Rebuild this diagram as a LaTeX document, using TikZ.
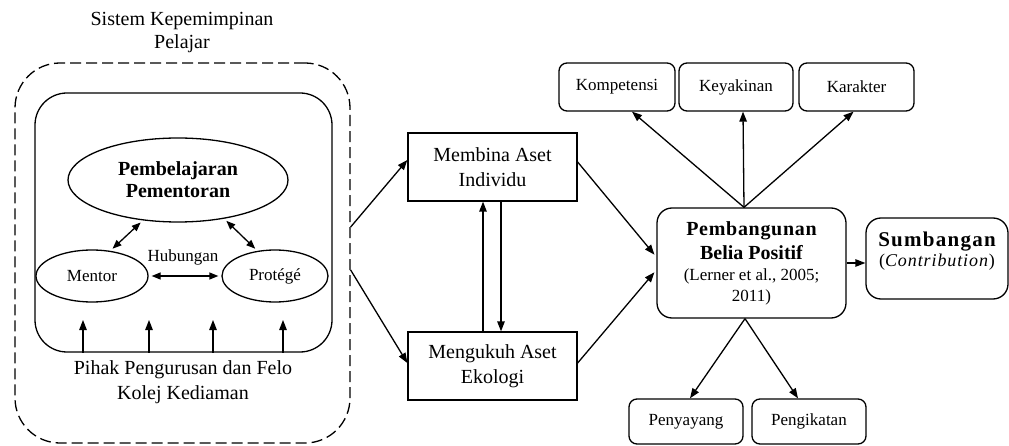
\documentclass[tikz,border=0pt]{standalone}
\usepackage{fontspec}
\setmainfont{Liberation Serif}
\usetikzlibrary{arrows.meta,shapes.geometric}
\begin{document}
\begin{tikzpicture}[x=1pt,y=-1pt,
  big/.style={font=\fontsize{20}{25}\selectfont},
  small/.style={font=\fontsize{17}{20}\selectfont},
  lw/.style={line width=1.3pt},
  arr/.style={lw,-{Triangle[length=10pt,width=7.5pt]}},
  darr/.style={lw,{Triangle[length=9pt,width=7pt]}-{Triangle[length=9pt,width=7pt]}},
  sqbox/.style={draw,lw,rectangle,minimum width=169pt,minimum height=68pt,inner sep=0pt,align=center,big},
  rbox/.style={draw,lw,rectangle,rounded corners=8pt,minimum height=48pt,inner sep=0pt,small},
  ell/.style={draw,lw,ellipse,inner sep=0pt,align=center}
]
\useasboundingbox (0,0) rectangle (1009,446);

% left part
\node[align=center,font=\fontsize{20}{23}\selectfont] (title) at (182,33) {Sistem Kepemimpinan\\Pelajar};
\node[draw,lw,dash pattern=on 11pt off 5pt,rounded corners=45pt,minimum width=335pt,minimum height=380pt,inner sep=0pt] (outer) at (182.5,253) {};
\node[draw,lw,rounded corners=32pt,minimum width=297pt,minimum height=259pt,inner sep=0pt] (inner) at (183.5,222.5) {};
\node[ell,minimum width=220pt,minimum height=84pt,font=\fontsize{20}{24}\selectfont\bfseries] (pp) at (178,180) {Pembelajaran\\[-2pt]Pementoran};
\node[ell,minimum width=112pt,minimum height=52pt,small] (mentor) at (92,276) {Mentor};
\node[ell,minimum width=106pt,minimum height=52pt,small] (protege) at (275,276) {Protégé};
\node[small] (hub) at (183,257) {Hubungan};
\draw[darr,shorten <=3pt,shorten >=3pt] (mentor.east) -- (protege.west);
\draw[darr,shorten <=3pt,shorten >=3pt] (mentor.54) -- (pp.229);
\draw[darr,shorten <=3pt,shorten >=3pt] (pp.320) -- (protege.125);
\foreach \i/\x in {1/83,2/149,3/213,4/283}{
  \coordinate (up\i) at (\x,320);
  \draw[arr] (up\i |- inner.south) -- (up\i);
}
\node[big,align=center] (pihak) at (183,382) {Pihak Pengurusan dan Felo\\Kolej Kediaman};

% middle
\node[sqbox] (membina) at (492.5,167) {Membina Aset\\Individu};
\node[sqbox] (mengukuh) at (492.5,366) {Mengukuh Aset\\Ekologi};
\draw[arr] ([xshift=-9.5pt]mengukuh.north) -- ([xshift=-9.5pt]membina.south);
\draw[arr] ([xshift=8.5pt]membina.south) -- ([xshift=8.5pt]mengukuh.north);
\draw[arr] ([yshift=26pt]outer.east) -- ([yshift=7pt]membina.west);
\draw[arr] ([yshift=-17pt]outer.east) -- ([yshift=3pt]mengukuh.west);

% right
\node[draw,lw,rounded corners=15pt,minimum width=189pt,minimum height=110pt,inner sep=0pt,align=center,font=\fontsize{20}{24}\selectfont] (pb) at (751.5,263)
  {\bfseries\addfontfeature{LetterSpace=3.5}Pembangunan\\\bfseries Belia Positif\\[-3pt]\fontsize{17}{20}\selectfont (Lerner et al., 2005;\\[-3pt]\fontsize{17}{20}\selectfont 2011)};
\node[draw,lw,rounded corners=15pt,minimum width=142pt,minimum height=81pt,inner sep=0pt] (sumb) at (937,258.5) {};
\node[align=center,font=\fontsize{20}{20}\selectfont] (sumbt) at (937,251)
  {\fontsize{21}{20}\selectfont\bfseries\addfontfeature{LetterSpace=6}Sumbangan\\\fontsize{18}{20}\selectfont\addfontfeature{LetterSpace=5}(\textit{Contribution})};
\draw[arr] (pb.east) -- (pb.east -| sumb.west);
\draw[arr,shorten >=3pt] ([yshift=5pt]membina.east) -- ([yshift=6pt]pb.west);
\draw[arr,shorten >=3pt] ([yshift=3pt]mengukuh.east) -- ([yshift=-7pt]pb.west);

\node[rbox,minimum width=116pt] (komp) at (617,87) {Kompetensi};
\node[rbox,minimum width=114pt] (key) at (736,87) {Keyakinan};
\node[rbox,minimum width=115pt] (kar) at (856.5,87) {Karakter};
\node[rbox,minimum width=114pt,minimum height=45pt] (pen) at (686,421.5) {Penyayang};
\node[rbox,minimum width=114pt,minimum height=45pt] (peng) at (809,421.5) {Pengikatan};

\coordinate (pbt) at ([xshift=-7.5pt]pb.north);
\coordinate (pbb) at ([xshift=-6.5pt]pb.south);
\draw[arr] (pbt) -- ([xshift=15pt]komp.south);
\draw[arr] (pbt) -- ([xshift=7pt]key.south);
\draw[arr] (pbt) -- ([xshift=-3pt]kar.south);
\draw[arr] (pbb) -- ([xshift=4pt]pen.north);
\draw[arr] (pbb) -- ([xshift=-11pt]peng.north);
\end{tikzpicture}
\end{document}
